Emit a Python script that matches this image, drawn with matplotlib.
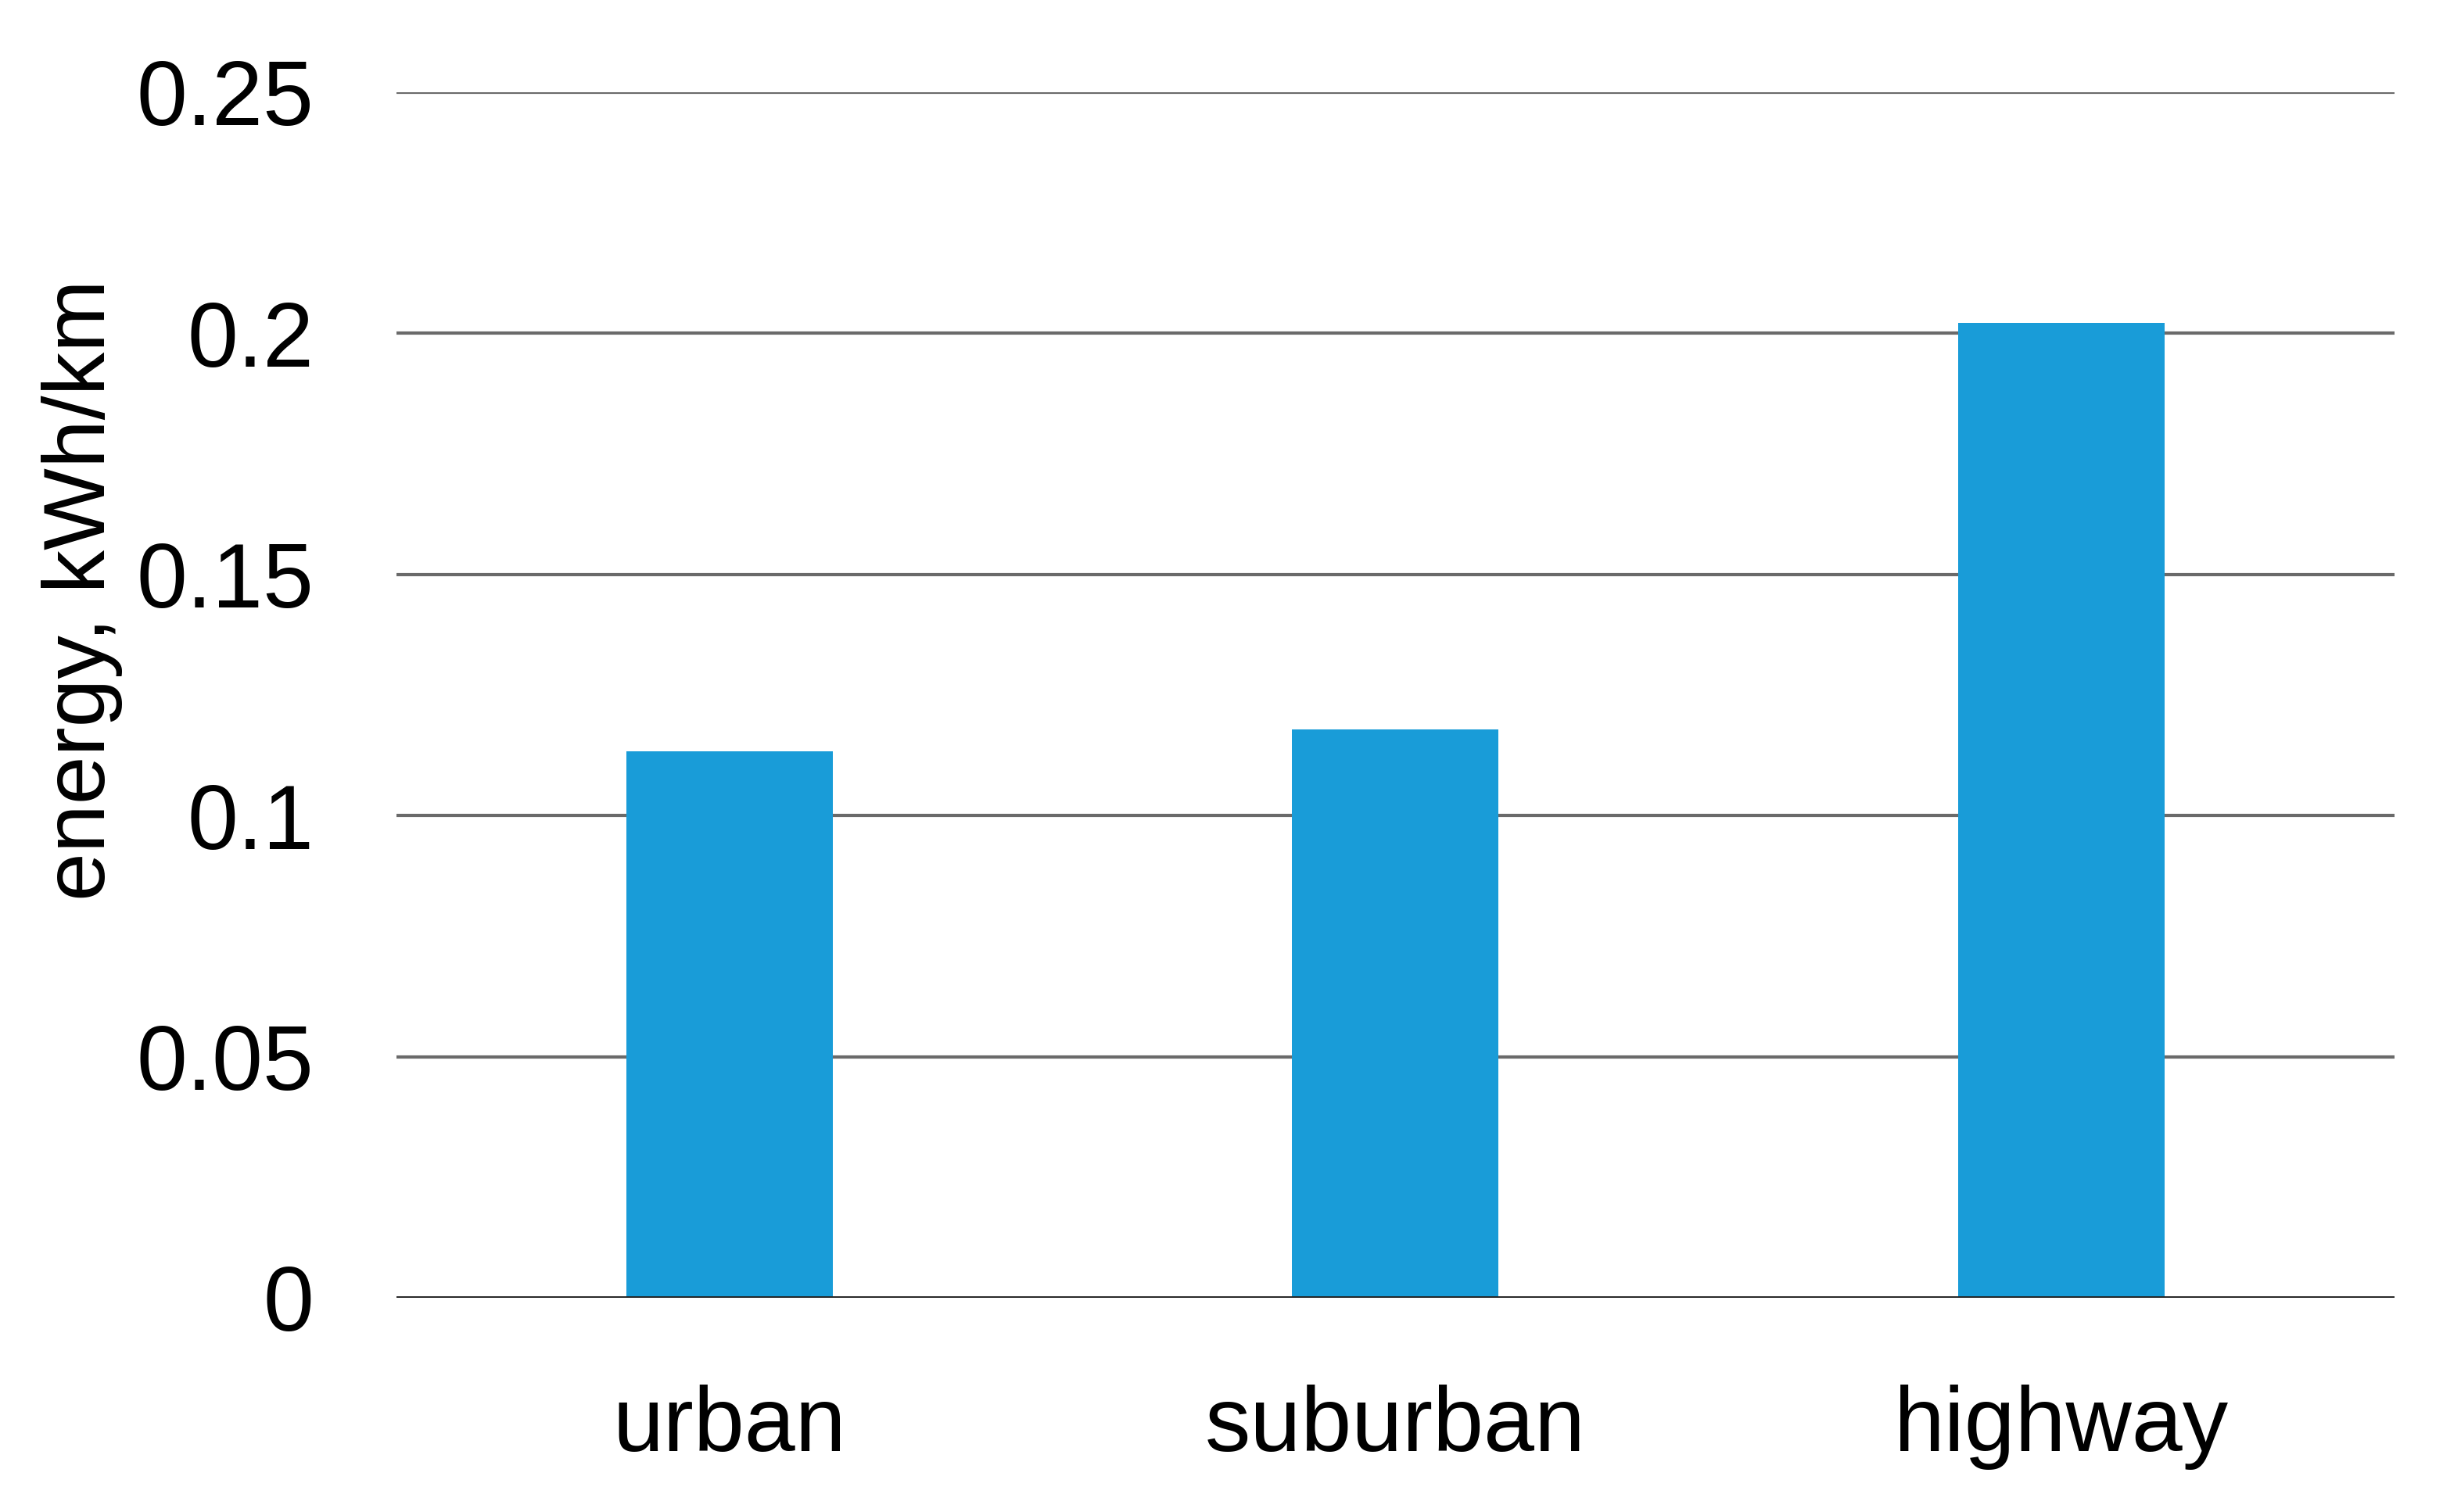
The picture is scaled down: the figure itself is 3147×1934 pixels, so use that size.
import matplotlib.pyplot as plt

# values
categories = ["urban", "suburban", "highway"]
energy = [0.1133, 0.1178, 0.2021]
yticks = [0, 0.05, 0.1, 0.15, 0.2, 0.25]
ytick_labels = ["0", "0.05", "0.1", "0.15", "0.2", "0.25"]

plt.rcParams['font.family'] = ['Liberation Sans Narrow', 'Liberation Sans', 'DejaVu Sans']

fig = plt.figure(figsize=(31.47, 19.34), dpi=100)
ax = fig.add_axes([0.161, 0.1417, 0.812, 0.7973])

x = range(len(categories))
ax.bar(x, energy, width=0.31, color="#199cd8", zorder=3)

ax.set_xlim(-0.5, 2.5)
ax.set_ylim(0, 0.25)
ax.set_yticks(yticks)
ax.set_yticklabels(ytick_labels)
ax.set_xticks(list(x))
ax.set_xticklabels(categories)

# horizontal grid only
for y in yticks[1:]:
    ax.axhline(y, color="#6a6a6a", lw=3.0, zorder=1)
ax.axhline(0, color="#222222", lw=3.5, zorder=4)

for s in ax.spines.values():
    s.set_visible(False)
ax.tick_params(axis="both", length=0, labelsize=84, colors="black")
ax.tick_params(axis="y", pad=76)
ax.tick_params(axis="x", pad=80)

ax.set_ylabel("energy, kWh/km", fontsize=80)
ax.yaxis.set_label_coords(-0.137, 0.587)

fig.savefig("out.png", dpi=100, facecolor="white")
